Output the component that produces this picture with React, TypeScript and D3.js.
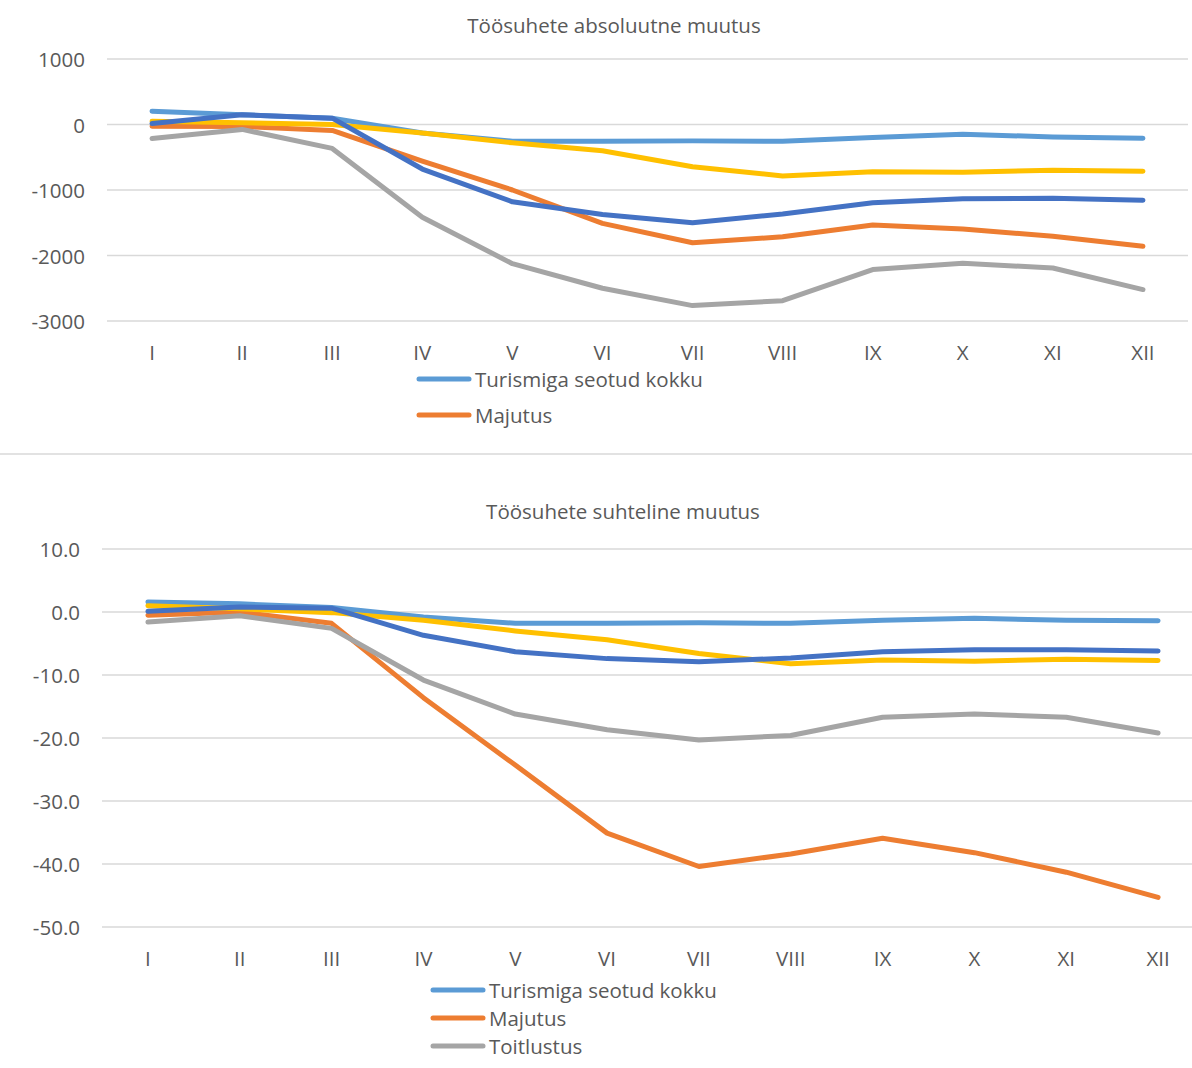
import React from "react";
import * as d3 from "d3";

const months = ["I", "II", "III", "IV", "V", "VI", "VII", "VIII", "IX", "X", "XI", "XII"];
const seriesNames = ["Turismiga seotud kokku", "Majutus", "Toitlustus"];
const seriesColors = ["#5B9BD5", "#ED7D31", "#A5A5A5", "#FFC000", "#4472C4"];

// Töösuhete absoluutne muutus
const absTotal = [203, 150, 95, -130, -255, -255, -250, -255, -200, -150, -190, -210];
const absMajutus = [-25, -30, -90, -560, -1000, -1510, -1805, -1715, -1535, -1595, -1705, -1860];
const absToitlustus = [-215, -75, -365, -1415, -2125, -2500, -2765, -2690, -2215, -2120, -2190, -2520];
const absSeries4 = [50, 25, 0, -130, -280, -400, -645, -785, -722, -728, -700, -712];
const absSeries5 = [15, 150, 97, -680, -1180, -1375, -1500, -1365, -1195, -1135, -1125, -1155];
const absTicks = [1000, 0, -1000, -2000, -3000];

// Töösuhete suhteline muutus
const relTotal = [1.6, 1.3, 0.7, -0.8, -1.8, -1.8, -1.7, -1.8, -1.3, -1.0, -1.3, -1.4];
const relMajutus = [-0.5, 0, -1.8, -13.6, -24.3, -35.1, -40.4, -38.4, -35.9, -38.2, -41.3, -45.3];
const relToitlustus = [-1.6, -0.6, -2.6, -10.8, -16.2, -18.7, -20.3, -19.6, -16.7, -16.2, -16.7, -19.2];
const relSeries4 = [1.0, 0.5, -0.1, -1.3, -3.0, -4.4, -6.6, -8.2, -7.6, -7.8, -7.5, -7.7];
const relSeries5 = [0.1, 0.8, 0.6, -3.7, -6.3, -7.4, -7.9, -7.3, -6.3, -6.0, -6.0, -6.2];
const relTicks = [10, 0, -10, -20, -30, -40, -50];

const FONT = "'Open Sans', sans-serif";
const TEXT = "#595959";
const GRID = "#d9d9d9";
const FS = 20.5;

type PanelProps = {
  title: string;
  titleX: number;
  titleY: number;
  series: number[][];
  ticks: number[];
  fmt: (v: number) => string;
  xRange: [number, number];
  yRange: [number, number];
  domain: [number, number];
  labelRight: number;
  xLabelY: number;
  legendX: number;
  legendYs: number[];
  legendCount: number;
};

function Panel(p: PanelProps) {
  const x = d3.scaleBand<string>().domain(months).range(p.xRange);
  const y = d3.scaleLinear().domain(p.domain).range(p.yRange);
  const cx = (i: number) => (x(months[i]) as number) + x.bandwidth() / 2;
  const line = d3
    .line<number>()
    .x((_, i) => cx(i))
    .y((d) => y(d));
  return (
    <g>
      <text x={p.titleX} y={p.titleY} textAnchor="middle" dominantBaseline="central" fontFamily={FONT} fontSize={FS} fill={TEXT}>
        {p.title}
      </text>
      {p.ticks.map((t) => (
        <g key={t}>
          <line x1={p.xRange[0]} x2={p.xRange[1]} y1={y(t)} y2={y(t)} stroke={GRID} strokeWidth={1.5} />
          <text x={p.labelRight} y={y(t)} textAnchor="end" dominantBaseline="central" fontFamily={FONT} fontSize={FS} fill={TEXT}>
            {p.fmt(t)}
          </text>
        </g>
      ))}
      {months.map((m, i) => (
        <text key={m} x={cx(i)} y={p.xLabelY} textAnchor="middle" dominantBaseline="central" fontFamily={FONT} fontSize={FS} fill={TEXT}>
          {m}
        </text>
      ))}
      {p.series.map((s, k) => (
        <path key={k} d={line(s) || ""} fill="none" stroke={seriesColors[k]} strokeWidth={5} strokeLinejoin="round" strokeLinecap="round" />
      ))}
      {seriesNames.slice(0, p.legendCount).map((n, k) => (
        <g key={n}>
          <line x1={p.legendX} x2={p.legendX + 50} y1={p.legendYs[k]} y2={p.legendYs[k]} stroke={seriesColors[k]} strokeWidth={5} strokeLinecap="round" />
          <text x={p.legendX + 56} y={p.legendYs[k]} dominantBaseline="central" fontFamily={FONT} fontSize={FS} fill={TEXT}>
            {n}
          </text>
        </g>
      ))}
    </g>
  );
}

export default function App() {
  return (
    <svg width={1192} height={1068} style={{ position: "absolute", left: 0, top: 0, background: "#fff" }}>
      <rect width={1192} height={1068} fill="#fff" />
      <Panel
        title="Töösuhete absoluutne muutus"
        titleX={614}
        titleY={25}
        series={[absTotal, absMajutus, absToitlustus, absSeries4, absSeries5]}
        ticks={absTicks}
        fmt={(v) => String(v)}
        xRange={[107, 1188]}
        yRange={[321, 59]}
        domain={[-3000, 1000]}
        labelRight={85}
        xLabelY={352}
        legendX={419}
        legendYs={[379, 415]}
        legendCount={2}
      />
      <line x1={0} x2={1192} y1={454} y2={454} stroke={GRID} strokeWidth={1.5} />
      <Panel
        title="Töösuhete suhteline muutus"
        titleX={623}
        titleY={511}
        series={[relTotal, relMajutus, relToitlustus, relSeries4, relSeries5]}
        ticks={relTicks}
        fmt={(v) => v.toFixed(1)}
        xRange={[102, 1204]}
        yRange={[927, 549]}
        domain={[-50, 10]}
        labelRight={80}
        xLabelY={958}
        legendX={433}
        legendYs={[990, 1018, 1046]}
        legendCount={3}
      />
    </svg>
  );
}
